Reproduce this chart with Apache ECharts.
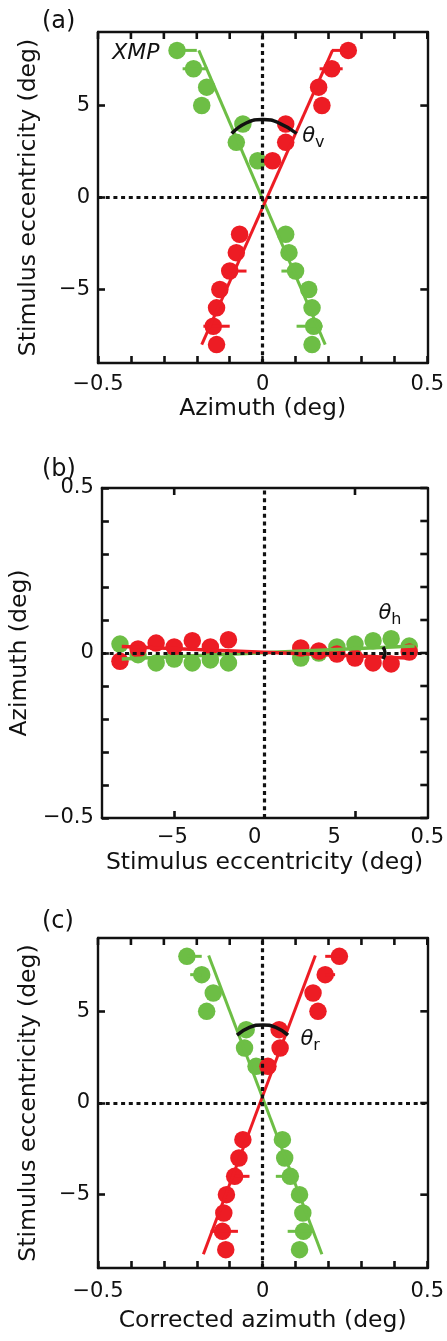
<!DOCTYPE html>
<html>
<head>
<meta charset="utf-8">
<script src="https://cdn.jsdelivr.net/npm/echarts@6/dist/echarts.min.js"></script>
<style>
  html, body { margin: 0; padding: 0; background: #fff; }
  #chart { width: 447px; height: 1341px; }
</style>
</head>
<body>
<div id="chart"></div>
<script>
// ---------- DATA ----------
// Stimulus eccentricities (deg), shared by panels (a) and (c)
const ecc = [8, 7, 6, 5, 4, 3, 2, -2, -3, -4, -5, -6, -7, -8];

// Panel (a): azimuth (deg)
const aGreenAz = [-0.26, -0.21, -0.17, -0.185, -0.06, -0.08, -0.015, 0.07, 0.08, 0.10, 0.14, 0.15, 0.155, 0.15];
const aRedAz   = [0.26, 0.21, 0.17, 0.18, 0.07, 0.07, 0.03, -0.07, -0.08, -0.10, -0.13, -0.14, -0.15, -0.14];
// fit lines [x, y] end points
const aGreenFit = [[-0.194, 8.0], [0.19, -8.0]];
const aRedFit   = [[0.212, 8.0], [-0.185, -8.0]];
// error bars [xLow, xHigh, ecc]
const aGreenErr = [[-0.26, -0.2, 8], [-0.243, -0.167, 7], [0.057, 0.10, -4], [0.103, 0.182, -7]];
const aRedErr   = [[0.21, 0.26, 8], [0.173, 0.243, 7], [-0.10, -0.049, -4], [-0.18, -0.10, -7]];
// angle arc theta_v
const aArc = [[-0.094, 3.48], [-0.05, 4.05], [0, 4.24], [0.05, 4.05], [0.103, 3.48]];

// Panel (b): stimulus eccentricity (deg) vs azimuth (deg)
const bEccLeft  = [-8, -7, -6, -5, -4, -3, -2];
const bEccRight = [2, 3, 4, 5, 6, 7, 8];
const bGreenAzLeft  = [0.027, -0.005, -0.03, -0.018, -0.03, -0.021, -0.03];
const bRedAzLeft    = [-0.025, 0.012, 0.03, 0.018, 0.037, 0.018, 0.04];
const bGreenAzRight = [-0.015, 0.0, 0.018, 0.027, 0.037, 0.043, 0.021];
const bRedAzRight   = [0.015, 0.006, -0.003, -0.015, -0.03, -0.033, 0.003];
const bGreenFit = [[-7.9, -0.018], [8.3, 0.021]];
const bRedFit   = [[-7.9, 0.02], [8.2, -0.016]];
const bArc = [[6.55, 0.018], [6.66, 0.0], [6.55, -0.018]];

// Panel (c): corrected azimuth (deg)
const cGreenAz = [-0.23, -0.185, -0.15, -0.17, -0.05, -0.055, -0.02, 0.06, 0.067, 0.084, 0.112, 0.122, 0.124, 0.112];
const cRedAz   = [0.233, 0.19, 0.153, 0.168, 0.05, 0.053, 0.016, -0.06, -0.072, -0.085, -0.11, -0.118, -0.122, -0.112];
const cGreenFit = [[-0.164, 8.05], [0.18, -8.25]];
const cRedFit   = [[0.16, 8.05], [-0.18, -8.25]];
const cGreenErr = [[-0.23, -0.185, 8], [-0.22, -0.185, 7], [0.04, 0.084, -4], [0.076, 0.152, -7]];
const cRedErr   = [[0.19, 0.233, 8], [0.19, 0.22, 7], [-0.085, -0.04, -4], [-0.158, -0.075, -7]];
const cArc = [[-0.078, 3.7], [-0.04, 4.12], [0, 4.26], [0.04, 4.12], [0.077, 3.7]];

// Tick values and labels
const azTicks = [-0.5, -0.4, -0.3, -0.2, -0.1, 0, 0.1, 0.2, 0.3, 0.4, 0.5];
const azLabels = [-0.5, 0, 0.5];
const eccTicks = [-5, 0, 5];
const bXTicks = [-5, 5];
const bXLabelVals = [-5.1, -0.55, 3.85, 9];
const bXLabelText = ['\u22125', '0', '5', '0.5'];
const bYTicks = [-0.5, -0.4, -0.3, -0.2, -0.1, 0, 0.1, 0.2, 0.3, 0.4, 0.5];
const bYLabels = [-0.5, 0, 0.5];

// ---------- STYLE ----------
const GREEN = '#6dbe45';
const RED = '#ed1c24';
const INK = '#111';
const FONT = 'DejaVu Sans';
const TICK_FS = 21;
const NAME_FS = 23.5;
const TICK_LEN = 7;
const TICK_W = 2.6;
const FRAME_W = 2.4;
const fmt = v => (v < 0 ? '\u2212' : '') + String(Math.abs(Math.round(v * 1000) / 1000));

function zip(xs, ys) { return xs.map((x, i) => [x, ys[i]]); }

const GRIDS = [
  { left: 98, top: 32, width: 330, height: 331 },
  { left: 97, top: 488, width: 331, height: 330 },
  { left: 98, top: 938, width: 330, height: 330 }
];

const chart = echarts.init(document.getElementById('chart'), null, { renderer: 'canvas' });

function frameAxis(kind, gridIndex, pos, min, max, ticks, labels, opts) {
  opts = opts || {};
  const ax = {
    type: 'value', gridIndex, position: pos, min, max,
    axisLine: { show: true, onZero: false, lineStyle: { color: INK, width: FRAME_W } },
    axisTick: { show: !!labels, inside: true, length: TICK_LEN, customValues: ticks, lineStyle: { color: INK, width: TICK_W } },
    splitLine: { show: false },
    axisLabel: { show: false }
  };
  if (labels) {
    ax.axisLabel = {
      show: true, customValues: labels, showMinLabel: true, showMaxLabel: true,
      fontFamily: FONT, fontSize: TICK_FS, color: INK, margin: opts.margin || 8,
      formatter: opts.formatter || fmt
    };
  }
  if (opts.name) {
    ax.name = opts.name;
    ax.nameLocation = 'middle';
    ax.nameGap = opts.nameGap;
    ax.nameTextStyle = { fontFamily: FONT, fontSize: NAME_FS, color: INK };
    if (kind === 'y') ax.nameRotate = 90;
  }
  return ax;
}

const xAxes = [
  frameAxis('x', 0, 'bottom', -0.5, 0.5, azTicks, azLabels, { margin: 11, name: 'Azimuth (deg)', nameGap: 34 }),
  frameAxis('x', 0, 'top', -0.5, 0.5, azTicks, null),
  frameAxis('x', 1, 'bottom', -9, 9, bXTicks, bXLabelVals, {
    margin: 9, name: 'Stimulus eccentricity (deg)', nameGap: 33,
    formatter: v => { const i = bXLabelVals.findIndex(p => Math.abs(p - v) < 1e-6); return i >= 0 ? bXLabelText[i] : ''; }
  }),
  frameAxis('x', 1, 'top', -9, 9, bXTicks, null),
  frameAxis('x', 2, 'bottom', -0.5, 0.5, azTicks, azLabels, { margin: 13, name: 'Corrected azimuth (deg)', nameGap: 41 }),
  frameAxis('x', 2, 'top', -0.5, 0.5, azTicks, null)
];
const yAxes = [
  frameAxis('y', 0, 'left', -9, 9, eccTicks, eccTicks, { margin: 8, name: 'Stimulus eccentricity (deg)', nameGap: 57 }),
  frameAxis('y', 0, 'right', -9, 9, eccTicks, null),
  frameAxis('y', 1, 'left', -0.5, 0.5, bYTicks, bYLabels, { margin: 8, name: 'Azimuth (deg)', nameGap: 58 }),
  frameAxis('y', 1, 'right', -0.5, 0.5, bYTicks, null),
  frameAxis('y', 2, 'left', -9, 9, eccTicks, eccTicks, { margin: 8, name: 'Stimulus eccentricity (deg)', nameGap: 57 }),
  frameAxis('y', 2, 'right', -9, 9, eccTicks, null)
];

// Inward tick marks on the mirrored (top / right) frame edges, placed through the axis scales
function frameTicks(xi, yi, xTicks, yTicks) {
  const data = xTicks.map(v => [v, 0, 0]).concat(yTicks.map(v => [0, v, 1]));
  return {
    type: 'custom', xAxisIndex: xi, yAxisIndex: yi, data, z: 6, silent: true, clip: false,
    encode: { x: 0, y: 1 },
    renderItem: (params, api) => {
      const cs = params.coordSys;
      const p = api.coord([api.value(0), api.value(1)]);
      let shape;
      if (api.value(2) === 0) {
        shape = { x1: p[0], y1: cs.y, x2: p[0], y2: cs.y + TICK_LEN };
      } else {
        const xr = cs.x + cs.width;
        shape = { x1: xr - TICK_LEN, y1: p[1], x2: xr, y2: p[1] };
      }
      return { type: 'line', shape, style: { stroke: INK, lineWidth: TICK_W } };
    }
  };
}

function scatter(xi, yi, data, color) {
  return { type: 'scatter', xAxisIndex: xi, yAxisIndex: yi, data, symbol: 'circle', symbolSize: 17.5,
    itemStyle: { color, opacity: 1 }, z: 2, silent: true };
}
function line(xi, yi, data, color, width, smooth) {
  return { type: 'line', xAxisIndex: xi, yAxisIndex: yi, data, showSymbol: false, symbol: 'none',
    smooth: !!smooth, lineStyle: { color, width }, z: 3, silent: true };
}
function errBars(xi, yi, data, color) {
  return {
    type: 'custom', xAxisIndex: xi, yAxisIndex: yi, data, z: 3, silent: true,
    encode: { x: [0, 1], y: 2 },
    renderItem: (params, api) => {
      const a = api.coord([api.value(0), api.value(2)]);
      const b = api.coord([api.value(1), api.value(2)]);
      return { type: 'line', shape: { x1: a[0], y1: a[1], x2: b[0], y2: b[1] },
        style: { stroke: color, lineWidth: 3 } };
    }
  };
}
function zeroLines(xi, yi) {
  return {
    type: 'line', xAxisIndex: xi, yAxisIndex: yi, data: [], z: 4, silent: true,
    markLine: {
      silent: true, symbol: ['none', 'none'], animation: false,
      label: { show: false },
      lineStyle: { color: INK, width: 3.2, type: [4, 3.7] },
      data: [{ xAxis: 0 }, { yAxis: 0 }]
    }
  };
}
function textMark(xi, yi, pt, text, rich, align) {
  return {
    type: 'scatter', xAxisIndex: xi, yAxisIndex: yi, data: [pt], symbolSize: 1,
    itemStyle: { color: 'rgba(0,0,0,0)', opacity: 1 }, z: 5, silent: true,
    label: { show: true, position: 'inside', align: align || 'left', formatter: text, rich,
      fontFamily: FONT, color: INK, opacity: 1 }
  };
}
const thetaRich = {
  t: { fontFamily: FONT, fontSize: 21, fontStyle: 'italic', color: INK, lineHeight: 28, verticalAlign: 'middle' },
  s: { fontFamily: FONT, fontSize: 16, color: INK, lineHeight: 28, verticalAlign: 'bottom' }
};

const series = [
  // panel (a)
  frameTicks(0, 0, azTicks, eccTicks),
  scatter(0, 0, zip(aGreenAz, ecc), GREEN),
  scatter(0, 0, zip(aRedAz, ecc), RED),
  line(0, 0, aGreenFit, GREEN, 3),
  line(0, 0, aRedFit, RED, 3),
  errBars(0, 0, aGreenErr, GREEN),
  errBars(0, 0, aRedErr, RED),
  line(0, 0, aArc, INK, 3.5, true),
  zeroLines(0, 0),
  textMark(0, 0, [-0.385, 7.83], '{x|XMP}', { x: { fontFamily: FONT, fontSize: 22, fontStyle: 'italic', color: INK } }, 'center'),
  textMark(0, 0, [0.12, 3.3], '{t|θ}{s|v}', thetaRich),
  // panel (b)
  frameTicks(2, 2, bXTicks, bYTicks),
  scatter(2, 2, zip(bEccLeft, bGreenAzLeft), GREEN),
  scatter(2, 2, zip(bEccRight, bGreenAzRight), GREEN),
  scatter(2, 2, zip(bEccLeft, bRedAzLeft), RED),
  scatter(2, 2, zip(bEccRight, bRedAzRight), RED),
  line(2, 2, bGreenFit, GREEN, 3.5),
  line(2, 2, bRedFit, RED, 3.5),
  zeroLines(2, 2),
  line(2, 2, bArc, INK, 3.5, true),
  textMark(2, 2, [6.3, 0.12], '{t|θ}{s|h}', thetaRich),
  // panel (c)
  frameTicks(4, 4, azTicks, eccTicks),
  scatter(4, 4, zip(cGreenAz, ecc), GREEN),
  scatter(4, 4, zip(cRedAz, ecc), RED),
  line(4, 4, cGreenFit, GREEN, 3),
  line(4, 4, cRedFit, RED, 3),
  errBars(4, 4, cGreenErr, GREEN),
  errBars(4, 4, cRedErr, RED),
  line(4, 4, cArc, INK, 3.5, true),
  zeroLines(4, 4),
  textMark(4, 4, [0.115, 3.45], '{t|θ}{s|r}', thetaRich)
];

chart.setOption({
  animation: false,
  backgroundColor: '#fff',
  title: [
    { text: '(a)', left: 37, top: 5, textStyle: { fontFamily: FONT, fontSize: 24, fontWeight: 'normal', color: INK } },
    { text: '(b)', left: 37, top: 453, textStyle: { fontFamily: FONT, fontSize: 24, fontWeight: 'normal', color: INK } },
    { text: '(c)', left: 37, top: 905, textStyle: { fontFamily: FONT, fontSize: 24, fontWeight: 'normal', color: INK } }
  ],
  grid: GRIDS,
  xAxis: xAxes,
  yAxis: yAxes,
  series
});
</script>
</body>
</html>
